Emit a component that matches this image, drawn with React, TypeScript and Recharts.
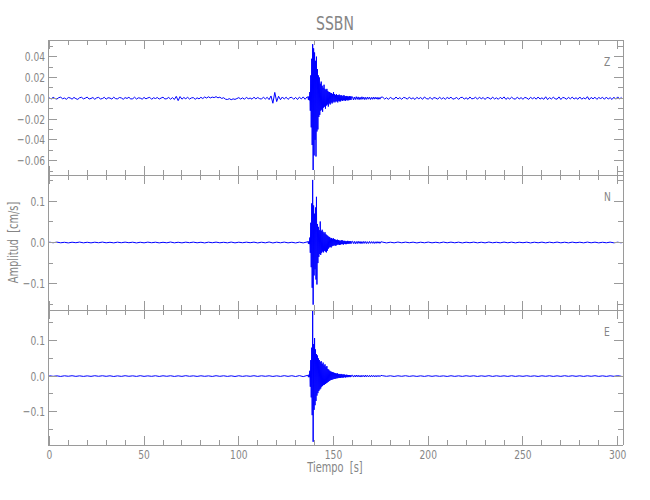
import { LineChart, Line, XAxis, YAxis } from 'recharts';

// sampling of each trace: block i of values starts at `start` s, spaced `step` s
const Z_SEGMENTS = [
  { start: 0, step: 1 }, // pre-event noise
  { start: 136.5, step: 0.25 }, // arrival + strong motion
  { start: 160, step: 0.5 }, // coda
  { start: 176, step: 1 }, // post-event noise
];
const NE_SEGMENTS = [
  { start: 0, step: 2 },
  { start: 136.5, step: 0.25 },
  { start: 160, step: 0.5 },
  { start: 176, step: 2 },
];

// amplitudes are written in units of 1e-3 cm/s
const UNIT = 0.001;

const Z_PRE = [
  0.4, -0.7, 0.9, -0.3, -0.8, 0.6, 1.0, -0.5, 0.2, -1.0,
  0.7, 0.3, -0.9, 0.8, -0.4, -1.1, 0.5, 0.9, -0.6, 0.1,
  1.1, -0.8, -0.2, 0.7, -1.0, 0.4, 0.8, -0.7, -0.3, 0.9,
  -0.9, 0.5, 0.2, -0.8, 1.0, -0.4, -0.6, 0.7, 0.3, -1.0,
  0.6, -0.2, 0.9, -0.7, -0.5, 1.0, -0.8, 0.4, 0.1, -0.9,
  0.8, -0.6, 0.3, 0.9, -1.0, 0.5, -0.3, 0.7, -0.8, 0.2,
  1.0, -0.7, -0.4, 0.8, -0.9, 0.6, -1.2, 1.8, -2.3, 1.6,
  -0.9, 0.7, -0.5, 0.9, -0.8, 0.3, 0.6, -1.0, 0.4, -0.6,
  0.9, -0.3, 1.2, 0.2, 1.4, 0.3, 1.1, 0.6, 1.5, 0.4,
  1.0, -0.2, 0.5, -0.9, -1.2, -0.4, -1.4, -0.6, -1.1, -0.3,
  0.6, -0.8, 0.4, -1.0, 0.9, -0.5, 0.2, -0.9, 1.0, -0.6,
  0.7, -0.4, -0.8, 1.1, -0.7, 0.9, -1.3, 2.2, -4.8, 5.6,
  -3.2, 1.9, -1.4, 1.2, -0.8, 1.0, -1.1, 0.6, 0.9, -1.0,
  0.8, -1.2, 1.1, -0.7, 1.3, -1.0, 1.2,
];
const Z_BURST = [
  1.2, -1.5, 1.8, -2.0, 6, -12, 22, -28,
  38, -45, 52, -69, 48, -55, 44, -40,
  36, -56, 40, -32, 28, -30, 22, -18,
  20, -16, 14, -12, 16, -11, 12, -13,
  10, -9, 13, -8, 9, -10, 8, -7,
  9, -6, 7, -8, 6, -5, 6, -6,
  5, -4, 5, -5, 4, -4, 6, -3,
  4, -4, 3, -3, 4, -3, 3, -4,
  3, -2.5, 3.5, -3, 2.5, -3, 3, -2,
  2.5, -2.5, 2, -2, 3, -2, 2, -2.5,
  2, -1.8, 2.2, -2, 1.8, -2, 1.6, -1.8,
  2, -1.5, 1.7, -1.6, 1.5,
];
const Z_CODA = [
  1.4, -1.6, 1.2, -1.3, 1.5, -1.1, 1.3, -1.4, 1.0, -1.2,
  1.4, -1.0, 1.1, -1.3, 0.9, -1.1, 1.2, -0.9, 1.0, -1.2,
  0.8, -1.0, 1.1, -0.9, 1.0, -0.8, 0.9, -1.1, 0.8, -0.9,
  1.0,
];
const Z_POST = [
  1.0, -0.8, 0.5, -1.1, 0.9, -0.4, -0.9, 1.2, -0.7, 0.6,
  -1.0, 0.8, 0.3, -0.9, 1.1, -0.6, 0.4, -1.2, 0.9, -0.5,
  0.7, -1.0, 1.2, -0.3, -0.8, 0.9, -1.1, 0.6, 0.2, -0.9,
  1.0, -0.7, 0.5, -1.0, 0.8, -0.4, 1.1, -0.9, -0.3, 0.8,
  -1.1, 0.6, 0.9, -0.8, 0.4, -1.0, 1.2, -0.6, -0.2, 0.9,
  -0.9, 1.0, -0.5, 0.7, -1.2, 0.8, 0.3, -0.9, 1.1, -0.7,
  0.4, -1.0, 0.9, -0.6, 1.3, -1.1, 0.5, -0.8, 1.0, -0.4,
  -0.9, 1.1, -0.7, 0.6, -1.0, 0.8, 0.2, -1.1, 0.9, -0.5,
  0.7, -0.9, 1.2, -0.8, 0.4, -1.0, 1.4, -1.3, 0.6, -0.7,
  1.0, -0.5, -0.9, 1.3, -1.2, 0.8, 0.3, -1.0, 0.9, -0.6,
  1.1, -0.8, 0.5, -1.0, 1.2, -0.9, 0.4, -0.7, 1.5, -1.4,
  0.8, -0.6, 1.0, -1.1, 0.7, -0.3, 0.9, -1.0, 1.1, -0.8,
  0.6, -1.2, 1.0, -0.9, 1.3, -0.7, 0.8,
];

const N_PRE = [
  0.8, -0.6, 0.9, -0.7, 0.5, -1.0, 0.7, -0.5, 1.0, -0.8,
  0.6, -0.9, 0.7, -0.6, 1.0, -0.7, 0.5, -0.9, 0.8, -0.6,
  0.9, -0.5, 0.7, -1.0, 0.6, -0.8, 0.9, -0.6, 0.7, -0.9,
  0.5, -0.7, 1.1, -0.8, 0.6, -0.9, 0.8, -0.5, 0.9, -0.7,
  0.6, -1.0, 0.8, -0.6, 0.9, -0.7, 0.5, -0.8, 1.0, -0.9,
  0.7, -0.6, 0.8, -0.5, 0.9, -1.0, 0.7, -0.8, 1.2, -1.1,
  0.8, -0.7, 1.0, -0.9, 0.6, -1.1, 0.9, -1.0, 1.3,
];
const N_BURST = [
  2, -3, 3, -4, 12, -25, 48, -60,
  95, -110, 152, -151, 90, -80, 70, -65,
  85, -90, 111, -102, 45, -50, 38, -35,
  30, -28, 51, -30, 28, -25, 31, -22,
  26, -24, 22, -20, 25, -22, 20, -24,
  18, -20, 16, -15, 14, -12, 13, -11,
  10, -12, 11, -9, 9, -8, 10, -7,
  8, -7, 7, -8, 6, -6, 7, -5,
  6, -5, 5, -6, 4, -5, 5, -4,
  6, -4, 4, -5, 4, -3, 4, -4,
  3, -4, 3, -3, 4, -3, 3, -3,
  3, -2, 3, -3, 2,
];
const N_CODA = [
  3.0, -2.6, 2.8, -3.2, 2.4, -2.7, 3.1, -2.2, 2.6, -2.9,
  2.3, -2.5, 2.7, -2.1, 2.4, -2.6, 2.0, -2.3, 2.5, -2.0,
  2.2, -1.9, 2.1, -2.4, 1.8, -2.0, 2.2, -1.7, 1.9, -2.1,
  1.8,
];
const N_POST = [
  0.8, -1.0, 0.7, -0.8, 1.1, -0.7, 0.9, -0.6, 0.8, -1.0,
  0.7, -0.7, 1.0, -0.8, 0.6, -0.9, 1.0, -0.7, 0.9, -0.7,
  0.8, -1.0, 0.7, -0.6, 0.9, -0.8, 0.7, -0.9, 1.1, -0.7,
  0.6, -0.8, 1.0, -0.7, 0.9, -0.9, 0.7, -0.6, 0.8, -1.0,
  0.7, -0.7, 0.9, -0.9, 0.8, -0.7, 1.0, -0.8, 0.7, -0.9,
  0.9, -0.6, 0.7, -0.8, 1.0, -0.7, 0.8, -0.9, 0.6, -0.7,
  0.9, -0.8, 0.7, -0.9,
];

const E_PRE = [
  0.9, -0.7, 0.6, -1.0, 0.8, -0.5, 1.0, -0.8, 0.7, -0.9,
  0.6, -0.8, 1.0, -0.6, 0.9, -0.7, 0.8, -1.1, 0.6, -0.8,
  1.0, -0.6, 0.7, -0.9, 1.1, -0.8, 0.6, -0.7, 0.9, -1.0,
  0.8, -0.6, 0.9, -1.0, 0.7, -0.8, 1.1, -0.6, 0.7, -0.9,
  0.8, -0.7, 0.6, -1.0, 1.0, -0.7, 0.8, -0.9, 0.7, -1.1,
  0.9, -0.8, 0.7, -0.7, 1.0, -0.9, 0.8, -0.6, 0.8, -1.0,
  0.7, -0.9, 1.1, -0.8, 1.0, -1.2, 1.3, -1.5, 1.6,
];
const E_BURST = [
  2, -3, 4, -3, 15, -30, 45, -60,
  80, -110, 195, -185, 90, -95, 107, -82,
  75, -70, 62, -55, 58, -48, 50, -42,
  45, -38, 40, -35, 42, -30, 34, -28,
  38, -25, 30, -24, 33, -22, 26, -20,
  28, -18, 20, -16, 18, -14, 15, -12,
  13, -11, 12, -10, 11, -9, 10, -8,
  9, -8, 8, -7, 7, -6, 8, -6,
  6, -5, 6, -5, 5, -5, 6, -4,
  5, -4, 4, -4, 5, -3, 4, -4,
  3, -3, 4, -3, 3, -3, 3, -2,
  3, -3, 2, -2, 2,
];
const E_CODA = [
  2.5, -2.8, 2.2, -2.4, 3.0, -2.1, 2.6, -2.3, 2.0, -2.7,
  2.4, -1.9, 2.2, -2.5, 2.7, -2.0, 2.1, -2.2, 1.9, -2.4,
  2.3, -1.8, 2.0, -2.1, 1.7, -2.2, 1.9, -1.8, 2.1, -1.7,
  1.9,
];
const E_POST = [
  0.9, -0.7, 0.8, -1.0, 0.8, -0.6, 1.0, -0.8, 0.7, -0.9,
  0.7, -0.9, 1.0, -0.7, 0.8, -0.7, 0.6, -1.0, 0.9, -0.8,
  0.7, -0.8, 0.9, -0.6, 0.8, -1.0, 0.7, -0.7, 1.1, -0.9,
  0.8, -0.7, 0.7, -0.9, 1.0, -0.8, 0.6, -0.7, 0.9, -0.7,
  0.7, -1.0, 0.8, -0.6, 0.9, -0.9, 0.7, -0.8, 1.0, -0.7,
  0.9, -0.7, 0.8, -0.9, 0.8, -0.6, 1.0, -0.8, 0.7, -0.9,
  0.8, -0.7, 0.9, -0.7,
];

const X_TICKS = [
  0, 10, 20, 30, 40, 50, 60, 70, 80, 90, 100, 110, 120, 130, 140, 150,
  160, 170, 180, 190, 200, 210, 220, 230, 240, 250, 260, 270, 280, 290, 300,
];
const Z_TICKS = [-0.07, -0.06, -0.05, -0.04, -0.03, -0.02, -0.01, 0, 0.01, 0.02, 0.03, 0.04, 0.05];
const NE_TICKS = [-0.15, -0.1, -0.05, 0, 0.05, 0.1, 0.15];

const FONT = "'DejaVu Sans Condensed', 'DejaVu Sans', sans-serif";
const SQ = 0.78; // horizontal squeeze for the narrow plot font
const AXIS = '#9a9a9a';
const TEXT = '#858585';
const TRACE = '#0000ff';

const W = 650;
const H = 500;
const LEFT = 48;
const RIGHT = 27;
const PANEL_H = 135;
const X_DOMAIN = [-0.7, 302.8];

function buildRows(parts: number[][], segs: { start: number; step: number }[]) {
  const rows: { t: number; v: number }[] = [];
  parts.forEach((vals, s) => {
    const { start, step } = segs[s];
    vals.forEach((v, i) => rows.push({ t: start + i * step, v: v * UNIT }));
  });
  return rows;
}

const PANELS = [
  { name: 'Z', top: 40, domain: [-0.0738, 0.056], ticks: Z_TICKS, major: 0.02, digits: 2, rows: buildRows([Z_PRE, Z_BURST, Z_CODA, Z_POST], Z_SEGMENTS) },
  { name: 'N', top: 175, domain: [-0.164, 0.164], ticks: NE_TICKS, major: 0.1, digits: 1, rows: buildRows([N_PRE, N_BURST, N_CODA, N_POST], NE_SEGMENTS) },
  { name: 'E', top: 310, domain: [-0.194, 0.186], ticks: NE_TICKS, major: 0.1, digits: 1, rows: buildRows([E_PRE, E_BURST, E_CODA, E_POST], NE_SEGMENTS) },
];

const isMajor = (v: number, step: number) => Math.abs(Math.round(v / step) * step - v) < 1e-9;

const fmt = (v: number, digits: number) => {
  if (Math.abs(v) < 1e-12) return (0).toFixed(digits);
  return (v < 0 ? '\u2212' : '') + Math.abs(v).toFixed(digits);
};

function SqText({ x, y, size, anchor = 'start', rotate = 0, children }: any) {
  return (
    <text
      transform={`translate(${x},${y}) rotate(${rotate}) scale(${SQ},1)`}
      textAnchor={anchor}
      fill={TEXT}
      fontSize={size}
      fontFamily={FONT}
    >
      {children}
    </text>
  );
}

const XTick = ({ x, y, payload, side, showLabel }: any) => {
  const major = isMajor(payload.value, 50);
  const len = major ? 9 : 5;
  const dir = side === 'bottom' ? -1 : 1;
  return (
    <g>
      <line x1={x} y1={y} x2={x} y2={y + dir * len} stroke={AXIS} shapeRendering="crispEdges" />
      {showLabel && major && (
        <SqText x={x} y={y + 13.5} size={13} anchor="middle">
          {payload.value}
        </SqText>
      )}
    </g>
  );
};

const YTick = ({ x, y, payload, side, major, digits }: any) => {
  const isBig = isMajor(payload.value, major);
  const len = isBig ? 9 : 5;
  const dir = side === 'left' ? 1 : -1;
  return (
    <g>
      <line x1={x} y1={y} x2={x + dir * len} y2={y} stroke={AXIS} shapeRendering="crispEdges" />
      {side === 'left' && isBig && (
        <SqText x={x - 3} y={y + 4.5} size={13} anchor="end">
          {fmt(payload.value, digits)}
        </SqText>
      )}
    </g>
  );
};

function Panel({ panel, last }: { panel: (typeof PANELS)[number]; last: boolean }) {
  const axisLine = { stroke: AXIS, shapeRendering: 'crispEdges' };
  // axes get 1px of room each, so the plot area lands exactly on the panel box
  const margin = {
    top: panel.top - 1,
    bottom: H - panel.top - PANEL_H - 1,
    left: LEFT - 1,
    right: RIGHT - 1,
  };
  return (
    <div style={{ position: 'absolute', left: 0, top: 0 }}>
      <LineChart width={W} height={H} data={panel.rows} margin={margin}>
        <XAxis
          xAxisId="b"
          type="number"
          dataKey="t"
          domain={X_DOMAIN}
          allowDataOverflow
          ticks={X_TICKS}
          interval={0}
          height={1}
          tickSize={0}
          tickMargin={0}
          tickLine={false}
          axisLine={axisLine}
          tick={(p: any) => <XTick {...p} side="bottom" showLabel={last} />}
        />
        <XAxis
          xAxisId="t"
          orientation="top"
          type="number"
          dataKey="t"
          domain={X_DOMAIN}
          allowDataOverflow
          ticks={X_TICKS}
          interval={0}
          height={1}
          tickSize={0}
          tickMargin={0}
          tickLine={false}
          axisLine={axisLine}
          tick={(p: any) => <XTick {...p} side="top" showLabel={false} />}
        />
        <YAxis
          yAxisId="l"
          type="number"
          domain={panel.domain}
          allowDataOverflow
          ticks={panel.ticks}
          interval={0}
          width={1}
          tickSize={0}
          tickMargin={0}
          tickLine={false}
          axisLine={axisLine}
          tick={(p: any) => <YTick {...p} side="left" major={panel.major} digits={panel.digits} />}
        />
        <YAxis
          yAxisId="r"
          orientation="right"
          type="number"
          domain={panel.domain}
          allowDataOverflow
          ticks={panel.ticks}
          interval={0}
          width={1}
          tickSize={0}
          tickMargin={0}
          tickLine={false}
          axisLine={axisLine}
          tick={(p: any) => <YTick {...p} side="right" major={panel.major} digits={panel.digits} />}
        />
        <Line
          xAxisId="b"
          yAxisId="l"
          type="linear"
          dataKey="v"
          stroke={TRACE}
          strokeWidth={1}
          dot={false}
          activeDot={false}
          isAnimationActive={false}
        />
      </LineChart>
    </div>
  );
}

export default function App() {
  return (
    <div style={{ position: 'absolute', left: 0, top: 0, width: W, height: H, background: '#fff', overflow: 'hidden' }}>
      {PANELS.map((p, i) => (
        <Panel key={p.name} panel={p} last={i === PANELS.length - 1} />
      ))}
      <svg width={W} height={H} style={{ position: 'absolute', left: 0, top: 0, pointerEvents: 'none' }}>
        <SqText x={335} y={30} size={20} anchor="middle">
          SSBN
        </SqText>
        <SqText x={18} y={242.5} size={14} anchor="middle" rotate={-90}>
          {'Amplitud\u00a0 [cm/s]'}
        </SqText>
        <SqText x={335} y={472} size={14} anchor="middle">
          {'Tiempo\u00a0 [s]'}
        </SqText>
        {PANELS.map((p) => (
          <SqText key={p.name} x={604} y={p.top + 26} size={13}>
            {p.name}
          </SqText>
        ))}
      </svg>
    </div>
  );
}
